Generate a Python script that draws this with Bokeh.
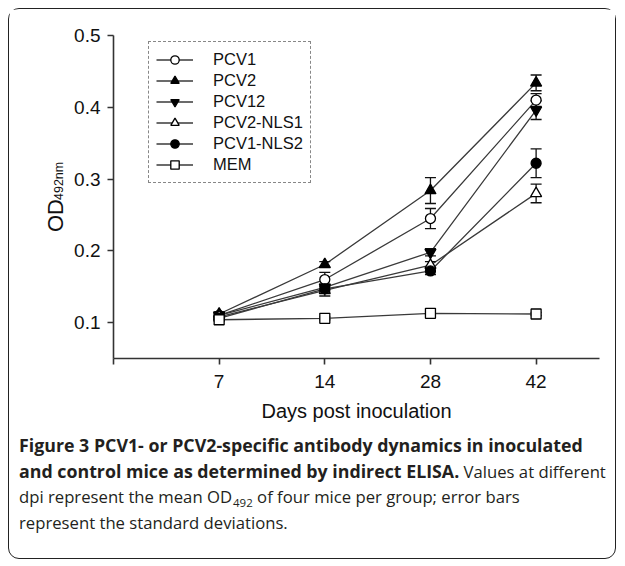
import math
from bokeh.plotting import figure
from bokeh.models import Range1d, FixedTicker, Legend, LegendItem, Div
from bokeh.layouts import row, column
from bokeh.core.properties import value
from bokeh.embed import file_html
from bokeh.resources import INLINE

# ---------------- data ----------------
days = ["7", "14", "28", "42"]
series_names = ["PCV1", "PCV2", "PCV12", "PCV2-NLS1", "PCV1-NLS2", "MEM"]

pcv1 = [0.110, 0.160, 0.245, 0.410]
pcv1_sd = [0.004, 0.010, 0.014, 0.009]
pcv2 = [0.112, 0.181, 0.284, 0.434]
pcv2_sd = [0.003, 0.004, 0.018, 0.011]
pcv12 = [0.110, 0.149, 0.198, 0.396]
pcv12_sd = [0.003, 0.004, 0.005, 0.013]
pcv2_nls1 = [0.108, 0.145, 0.180, 0.280]
pcv2_nls1_sd = [0.004, 0.008, 0.005, 0.013]
pcv1_nls2 = [0.106, 0.147, 0.172, 0.322]
pcv1_nls2_sd = [0.003, 0.004, 0.005, 0.020]
mem = [0.104, 0.106, 0.113, 0.112]
mem_sd = [0.002, 0.002, 0.002, 0.002]

y_ticks = [0.1, 0.2, 0.3, 0.4, 0.5]
y_tick_labels = ["0.1", "0.2", "0.3", "0.4", "0.5"]

x_label = "Days post inoculation"
y_label_main = "OD"
y_label_sub = "492nm"
caption_l1 = "Figure 3 PCV1- or PCV2-specific antibody dynamics in inoculated"
caption_l2_bold = "and control mice as determined by indirect ELISA."
caption_l2 = "Values at different"
caption_l3a = "dpi represent the mean OD"
caption_l3sub = "492"
caption_l3b = "of four mice per group; error bars"
caption_l4 = "represent the standard deviations."

values = [pcv1, pcv2, pcv12, pcv2_nls1, pcv1_nls2, mem]
errors = [pcv1_sd, pcv2_sd, pcv12_sd, pcv2_nls1_sd, pcv1_nls2_sd, mem_sd]
markers = ["circle", "triangle", "inverted_triangle", "triangle", "circle", "square"]
fills = ["white", "black", "black", "white", "black", "white"]
msizes = [10, 11, 11, 11, 10, 10]

TICK_FONT = "Liberation Sans"
CH = 421            # chart canvas height
BT, BB = 26, 72     # frame borders top / bottom
FH = CH - BT - BB   # frame height (323)
ORG = 9.5           # page offset of canvases (8 margin + 1.5 border)

# ---------------- y-axis title (OD with subscript) ----------------
lab = figure(width=60, height=CH, output_backend="svg", toolbar_location=None,
             x_range=Range1d(0, 60), y_range=Range1d(0, FH),
             x_axis_type=None, y_axis_type=None,
             min_border_left=0, min_border_right=0, min_border_top=BT,
             min_border_bottom=BB)
lab.outline_line_color = None
def lab_y(page_y):
    return FH - (page_y - ORG - BT)
lab.text(x=[55 - ORG], y=[lab_y(232)], text=[y_label_main], angle=math.pi / 2,
         text_align="left", text_baseline="alphabetic",
         text_font=value(TICK_FONT), text_font_size="22px", text_color="#111111")
lab.text(x=[59 - ORG], y=[lab_y(200)], text=[y_label_sub], angle=math.pi / 2,
         text_align="left", text_baseline="alphabetic",
         text_font=value(TICK_FONT), text_font_size="12.5px", text_color="#111111")

# ---------------- main chart ----------------
p = figure(width=546, height=CH, output_backend="svg", toolbar_location=None,
           x_range=Range1d(0, 4.6), y_range=Range1d(0.05, 0.5),
           min_border_left=44, min_border_right=16, min_border_top=BT,
           min_border_bottom=BB)
p.outline_line_color = None
p.xgrid.visible = False
p.ygrid.visible = False
p.background_fill_color = "white"
p.border_fill_color = "white"

for ax in (p.xaxis[0], p.yaxis[0]):
    ax.axis_line_color = "#333333"
    ax.axis_line_width = 1.6
    ax.major_tick_line_color = "#333333"
    ax.major_tick_line_width = 1.6
    ax.major_tick_in = 0
    ax.major_tick_out = 6
    ax.minor_tick_line_color = None
    ax.major_label_text_font = TICK_FONT
    ax.major_label_text_font_size = "19px"
    ax.major_label_text_color = "#111111"

xpos = [i + 1 for i in range(len(days))]
p.xaxis[0].ticker = FixedTicker(ticks=[0] + xpos)
ov = {0: ""}
for xp, d in zip(xpos, days):
    ov[xp] = d
p.xaxis[0].major_label_overrides = ov
p.xaxis[0].major_label_standoff = 10
p.xaxis[0].axis_label = x_label
p.xaxis[0].axis_label_text_font = TICK_FONT
p.xaxis[0].axis_label_text_font_size = "20px"
p.xaxis[0].axis_label_text_font_style = "normal"
p.xaxis[0].axis_label_text_color = "#111111"
p.xaxis[0].axis_label_standoff = 9

p.yaxis[0].ticker = FixedTicker(ticks=y_ticks)
p.yaxis[0].major_label_overrides = {t: l for t, l in zip(y_ticks, y_tick_labels)}
p.yaxis[0].major_label_standoff = 7

line_rs = []
for v in values:
    line_rs.append(p.line(xpos, v, line_color="#3a3a3a", line_width=1.3))
for v, e in zip(values, errors):
    lo = [a - b for a, b in zip(v, e)]
    hi = [a + b for a, b in zip(v, e)]
    p.segment(xpos, lo, xpos, hi, line_color="#111111", line_width=1.3)
    p.scatter(xpos, lo, marker="dash", size=11, line_color="#111111", line_width=1.4)
    p.scatter(xpos, hi, marker="dash", size=11, line_color="#111111", line_width=1.4)
mk_rs = []
for v, m, f, s in zip(values, markers, fills, msizes):
    mk_rs.append(p.scatter(xpos, v, marker=m, size=s, fill_color=f,
                           line_color="black", line_width=1.3))

items = [LegendItem(label=n, renderers=[lr, mr])
         for n, lr, mr in zip(series_names, line_rs, mk_rs)]
legend = Legend(items=items, location=(35, 175), margin=0, padding=7, spacing=0,
                label_height=21, glyph_height=21, glyph_width=37, label_standoff=20,
                label_text_font=TICK_FONT, label_text_font_size="16.5px",
                label_text_color="#111111",
                border_line_color="#111111", border_line_dash="6 3",
                border_line_width=1.3, background_fill_color="white",
                background_fill_alpha=1.0)
p.add_layout(legend)

# ---------------- caption ----------------
html = (
    '<div style="font-family:\'Open Sans\',sans-serif;font-size:16.7px;'
    'line-height:25.5px;color:#231f20;padding:3px 0 0 10px;white-space:nowrap;">'
    f'<b style="font-size:17.8px;">{caption_l1}</b><br>'
    f'<b style="font-size:17.8px;">{caption_l2_bold}</b> {caption_l2}<br>'
    f'{caption_l3a}<sub style="font-size:11.5px;line-height:0;margin-left:1px;">'
    f'{caption_l3sub}</sub> {caption_l3b}<br>'
    f'{caption_l4}</div>'
)
cap_div = Div(text=html, width=606, height=128, margin=0)

layout = column(row(lab, p), cap_div, margin=(8, 8, 8, 8),
                styles={"border": "1.5px solid #222222", "border-radius": "11px",
                        "background-color": "white"})

open("out.html", "w").write(file_html(layout, INLINE))
